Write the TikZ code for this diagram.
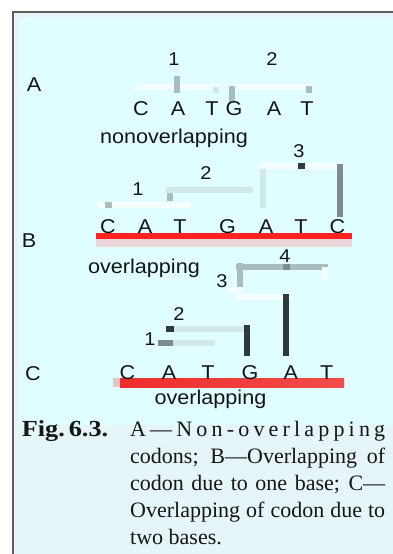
\documentclass[tikz,border=0pt]{standalone}
\usepackage{fontspec}
\setmainfont{Liberation Serif}
\newfontfamily\dsans[FakeStretch=1.08]{Liberation Sans}
\newfontfamily\figbold[FakeStretch=1.14]{Liberation Serif Bold}
\definecolor{cyanbg}{HTML}{E0FEFF}
\definecolor{capbg}{HTML}{E6F6F8}
\definecolor{stripc}{HTML}{E8F4F5}
\definecolor{framec}{HTML}{5A5E5E}
\definecolor{txt}{HTML}{151515}
\definecolor{brwhite}{HTML}{F4FEFE}
\definecolor{brfaint}{HTML}{D0E8E8}
\definecolor{brmid}{HTML}{A8BEBE}
\definecolor{brgray}{HTML}{7E8C8C}
\definecolor{brdark}{HTML}{303A3A}
\definecolor{redbar}{HTML}{FC2222}
\definecolor{pinkbar}{HTML}{E8D6D8}
\definecolor{redC}{HTML}{EE2C2C}
\definecolor{redCr}{HTML}{F44C4C}
\definecolor{pinkC}{HTML}{E8C2C4}
\tikzset{
  base/.style={font=\dsans\fontsize{20}{20}\selectfont, text=txt, inner sep=0pt, anchor=base},
  num/.style={font=\dsans\fontsize{18.5}{18.5}\selectfont, text=txt, inner sep=0pt, anchor=base},
  captext/.style={font=\fontsize{22}{22}\selectfont, text=txt, inner sep=0pt, anchor=base west},
  bw/.style={draw=brwhite, line width=6pt},
  bf/.style={draw=brfaint, line width=6pt},
  bm/.style={draw=brmid, line width=6pt},
  bg/.style={draw=brgray, line width=6pt},
  bd/.style={draw=brdark, line width=6pt}
}
\begin{document}
\begin{tikzpicture}[x=1pt,y=-1pt]
\useasboundingbox (0,0) rectangle (393,554);
\fill[white] (0,0) rectangle (393,554);
\fill[stripc] (13,12) rectangle (393,554);
\fill[cyanbg] (19,17) rectangle (393,425);
\fill[capbg] (19,425) rectangle (393,554);
\draw[framec, line width=1.6pt] (13,554) -- (13,12) -- (393,12);

% ---------- A ----------
\node[base] (labA) at (34,91) {A};
\draw[bw] (135,87) -- (220,87);
\draw[bm] (177,76) -- (177,93);
\draw[bf] (216,87) -- (216,93);
\draw[bw] (228,87) -- (313,87);
\draw[bm] (232,86) -- (232,102);
\draw[bm] (309,86) -- (309,93);
\node[num] (a1) at (174,65) {1};
\node[num] (a2) at (272,65) {2};
\node[base] (aC1) at (141,115) {C};
\node[base] (aA1) at (178,115) {A};
\node[base] (aT1) at (212,115) {T};
\node[base] (aG1) at (234,115) {G};
\node[base] (aA2) at (274,115) {A};
\node[base] (aT2) at (307,115) {T};
\node[base] (nonov) at (174,143) {nonoverlapping};

% ---------- B ----------
\draw[bw] (97,205) -- (190,205);
\draw[bm] (105,205) -- (112,205);
\draw[bm] (169.5,188) -- (169.5,201);
\draw[bf] (166,190) -- (253,190);
\draw[bf] (263,163) -- (263,208);
\draw[bw] (259,166) -- (343,166);
\draw[bd] (298,166) -- (305,166);
\draw[bg] (340,164) -- (340,217);
\node[num] (b1) at (138,195) {1};
\node[num] (b2) at (206,179) {2};
\node[num] (b3) at (299,157) {3};
\fill[redbar] (96,233.3) rectangle (352,239.3);
\fill[pinkbar] (96,239.3) rectangle (352,247.3);
\node[base] (bC1) at (108,233) {C};
\node[base] (bA1) at (145,233) {A};
\node[base] (bT1) at (180,233) {T};
\node[base] (bG1) at (227.5,233) {G};
\node[base] (bA2) at (266,233) {A};
\node[base] (bT2) at (301,233) {T};
\node[base] (bC2) at (337.5,233) {C};
\node[base] (labB) at (29,247) {B};
\node[base] (ovB) at (144,273) {overlapping};

% ---------- C ----------
\draw[bm] (236,267) -- (328,267);
\draw[bm] (239.5,263) -- (239.5,293);
\draw[bg] (283,267) -- (290,267);
\draw[bw] (325,267) -- (325,280);
\draw[bw] (228,290) -- (243,290);
\draw[bw] (236,297) -- (290,297);
\draw[bd] (286,294) -- (286,356);
\draw[bf] (166,329) -- (250,329);
\draw[bd] (166,329) -- (174,329);
\draw[bd] (246.7,325) -- (246.7,356);
\draw[bf] (158,343) -- (215,343);
\draw[bg] (158,343) -- (173,343);
\node[num] (c4) at (285,262) {4};
\node[num] (c3) at (222,287) {3};
\node[num] (c2) at (179,320) {2};
\node[num] (c1) at (150,345) {1};
\fill[pinkC] (112.7,378.3) rectangle (120,387.3);
\shade[left color=redC, right color=redCr] (120,378.3) rectangle (344,387.3);
\node[base] (cC1) at (127.5,379) {C};
\node[base] (cA1) at (169,379) {A};
\node[base] (cT1) at (208,379) {T};
\node[base] (cG1) at (250,379) {G};
\node[base] (cA2) at (290.8,379) {A};
\node[base] (cT2) at (326.7,379) {T};
\node[base] (labC) at (33,380) {C};
\node[base] (ovC) at (210.5,404) {overlapping};

% ---------- caption ----------
\node[captext, font=\figbold\fontsize{23}{23}\selectfont] (fig) at (21.7,436.7) {Fig.\hspace{4pt}6.3.};
\node[captext] (l1) at (130,436.7) {\makebox[255pt][s]{A\hfill—\hfill N\hfill o\hfill n\hfill -\hfill o\hfill v\hfill e\hfill r\hfill l\hfill a\hfill p\hfill p\hfill i\hfill n\hfill g}};
\node[captext] (l2) at (130,463.5) {\makebox[255pt][s]{codons; B—Overlapping of}};
\node[captext] (l3) at (130,490.3) {\makebox[255pt][s]{codon due to one base; C—}};
\node[captext] (l4) at (130,517.1) {\makebox[255pt][s]{Overlapping of codon due to}};
\node[captext] (l5) at (130,544) {two bases.};
\end{tikzpicture}
\end{document}
